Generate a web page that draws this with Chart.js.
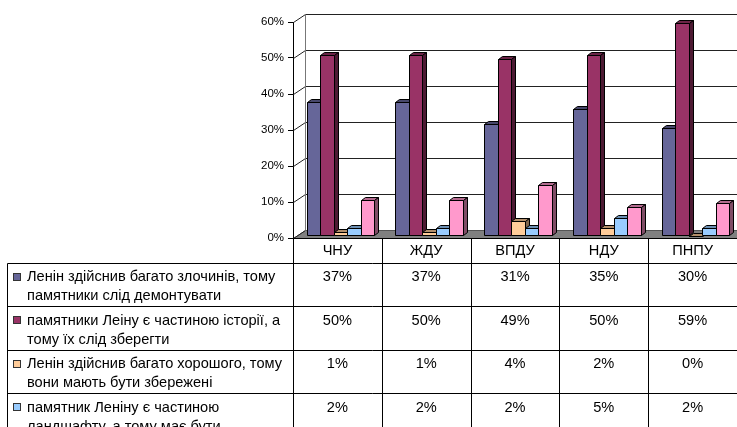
<!DOCTYPE html>
<html>
<head>
<meta charset="utf-8">
<script src="https://cdn.jsdelivr.net/npm/chart.js@4"></script>
<style>
  html, body { margin: 0; padding: 0; background: #fff; }
  #chart { display: block; }
</style>
</head>
<body>
<canvas id="chart" width="737" height="427"></canvas>
<script>
// categories (universities) and answers, values in %
const categories = ['ЧНУ', 'ЖДУ', 'ВПДУ', 'НДУ', 'ПНПУ'];
const seriesNames = [
  ['Ленін здійснив багато злочинів, тому', 'памятники слід демонтувати'],
  ['памятники Леіну є частиною історії, а', 'тому їх слід зберегти'],
  ['Ленін здійснив багато хорошого, тому', 'вони мають бути збережені'],
  ['памятник Леніну є частиною', 'ландшафту, а тому має бути'],
  ['']
];
const crimes    = [37, 37, 31, 35, 30];
const history   = [50, 50, 49, 50, 59];
const good      = [1, 1, 4, 2, 0];
const landscape = [2, 2, 2, 5, 2];
const other     = [10, 10, 14, 8, 9];
const seriesValues = [crimes, history, good, landscape, other];
const seriesColors = ['#666699', '#993366', '#FFCC99', '#99CCFF', '#FF99CC'];
const yMax = 60;
const yStep = 10;

const FONT = '"Liberation Sans", Arial, sans-serif';

function shade(hex, f) {
  const n = parseInt(hex.slice(1), 16);
  const r = Math.round(((n >> 16) & 255) * f);
  const g = Math.round(((n >> 8) & 255) * f);
  const b = Math.round((n & 255) * f);
  return 'rgb(' + r + ',' + g + ',' + b + ')';
}

function poly(ctx, pts, fill, stroke) {
  ctx.beginPath();
  ctx.moveTo(pts[0][0], pts[0][1]);
  for (let i = 1; i < pts.length; i++) ctx.lineTo(pts[i][0], pts[i][1]);
  ctx.closePath();
  if (fill) { ctx.fillStyle = fill; ctx.fill(); }
  if (stroke) { ctx.strokeStyle = stroke; ctx.lineWidth = 1; ctx.stroke(); }
}

// walls, floor and back grid (excel style 3d)
const WALL_DX = 12, WALL_DY = 8;
const wallPlugin = {
  id: 'wall3d',
  beforeDatasetsDraw(chart) {
    const ctx = chart.ctx;
    const area = chart.chartArea;
    const ys = chart.scales.y;
    ctx.save();
    const L = area.left + 0.5, R = chart.width + 20, B = Math.round(area.bottom) + 0.5;
    // floor
    poly(ctx, [[L, B], [R, B], [R + WALL_DX, B - WALL_DY], [L + WALL_DX, B - WALL_DY]], '#808080', '#555');
    // grid lines on wall
    ctx.lineWidth = 1;
    ys.ticks.forEach(t => {
      const y = Math.round(ys.getPixelForValue(t.value)) + 0.5;
      ctx.strokeStyle = '#222';
      ctx.beginPath();
      ctx.moveTo(L, y);
      ctx.lineTo(L + WALL_DX, y - WALL_DY);
      if (t.value > 0) ctx.lineTo(R, y - WALL_DY);
      ctx.stroke();
    });
    // back wall left edge
    ctx.strokeStyle = '#777';
    ctx.beginPath();
    ctx.moveTo(L + WALL_DX, Math.round(ys.getPixelForValue(yMax)) + 0.5 - WALL_DY);
    ctx.lineTo(L + WALL_DX, B - WALL_DY);
    ctx.stroke();

    // bars
    const DX = 4, DY = 3, OX = 3, OY = -2.5;
    chart.data.datasets.forEach((ds, di) => {
      const meta = chart.getDatasetMeta(di);
      const col = seriesColors[di];
      meta.data.forEach(el => {
        const p = el.getProps(['x', 'y', 'base', 'width'], true);
        const x0 = Math.round(p.x - p.width / 2 + OX) + 0.5;
        const x1 = Math.round(p.x + p.width / 2 + OX) + 0.5;
        const yt = Math.round(p.y + OY) + 0.5;
        const yb = Math.round(p.base + OY) + 0.5;
        poly(ctx, [[x0, yb], [x0, yt], [x1, yt], [x1, yb]], col, '#000');
        poly(ctx, [[x0, yt], [x0 + DX, yt - DY], [x1 + DX, yt - DY], [x1, yt]], shade(col, 0.7), '#000');
        poly(ctx, [[x1, yt], [x1 + DX, yt - DY], [x1 + DX, yb - DY], [x1, yb]], shade(col, 0.5), '#000');
      });
    });
    ctx.restore();
    return false;
  }
};

// data table under the chart
const HEADER_H = 24.5, ROW_H = 43.5;
const tablePlugin = {
  id: 'dataTable',
  afterDraw(chart) {
    const ctx = chart.ctx;
    const area = chart.chartArea;
    const xs = chart.scales.x;
    ctx.save();
    const top = Math.round(area.bottom) + 0.5;
    const headBot = Math.round(area.bottom + HEADER_H) + 0.5;
    const tableLeft = 7.5;
    const right = chart.width;
    const colW = (area.right - area.left) / categories.length;
    ctx.strokeStyle = '#000';
    ctx.lineWidth = 1;
    ctx.beginPath();
    ctx.moveTo(area.left, top); ctx.lineTo(right, top);
    ctx.moveTo(tableLeft, headBot); ctx.lineTo(right, headBot);
    for (let r = 1; r < seriesNames.length; r++) {
      const y = Math.round(area.bottom + HEADER_H + r * ROW_H) + 0.5;
      ctx.moveTo(tableLeft, y); ctx.lineTo(right, y);
    }
    ctx.moveTo(tableLeft, headBot); ctx.lineTo(tableLeft, chart.height);
    for (let c = 0; c < categories.length; c++) {
      const x = Math.round(area.left + c * colW) + 0.5;
      ctx.moveTo(x, top); ctx.lineTo(x, chart.height);
    }
    ctx.stroke();

    ctx.fillStyle = '#000';
    ctx.font = '14.6px ' + FONT;
    ctx.textAlign = 'center';
    ctx.textBaseline = 'middle';
    categories.forEach((c, i) => {
      ctx.fillText(c, xs.getPixelForValue(i), area.bottom + 12.5);
    });
    seriesValues.forEach((vals, r) => {
      const rowTop = area.bottom + HEADER_H + r * ROW_H;
      ctx.textAlign = 'center';
      ctx.fillStyle = '#000';
      vals.forEach((v, i) => {
        ctx.fillText(v + '%', xs.getPixelForValue(i), rowTop + 14.5);
      });
      // legend key + name
      ctx.fillStyle = seriesColors[r];
      ctx.fillRect(13, Math.round(rowTop + 10), 8, 8);
      ctx.strokeStyle = '#333';
      ctx.strokeRect(13.5, Math.round(rowTop + 10) + 0.5, 7, 7);
      ctx.fillStyle = '#000';
      ctx.textAlign = 'left';
      seriesNames[r].forEach((line, k) => {
        ctx.fillText(line, 27, rowTop + 14.5 + k * 19);
      });
    });
    ctx.restore();
  }
};

new Chart(document.getElementById('chart'), {
  type: 'bar',
  data: {
    labels: categories,
    datasets: seriesValues.map((vals, i) => ({
      label: seriesNames[i].join(' '),
      data: vals,
      backgroundColor: seriesColors[i],
      borderWidth: 0
    }))
  },
  options: {
    responsive: false,
    animation: false,
    devicePixelRatio: 1,
    layout: { padding: { top: 22, bottom: 189, left: 0, right: 0 } },
    plugins: { legend: { display: false }, tooltip: { enabled: false } },
    datasets: { bar: { categoryPercentage: 0.76, barPercentage: 1 } },
    scales: {
      x: { display: false },
      y: {
        min: 0,
        max: yMax,
        afterFit(scale) { scale.width = 293; },
        ticks: {
          stepSize: yStep,
          color: '#000',
          padding: 4,
          font: { family: FONT, size: 11.5 },
          callback: v => v + '%'
        },
        grid: { drawOnChartArea: false, drawTicks: true, tickLength: 5, color: '#000' },
        border: { display: true, color: '#000' }
      }
    }
  },
  plugins: [wallPlugin, tablePlugin]
});
</script>
</body>
</html>
